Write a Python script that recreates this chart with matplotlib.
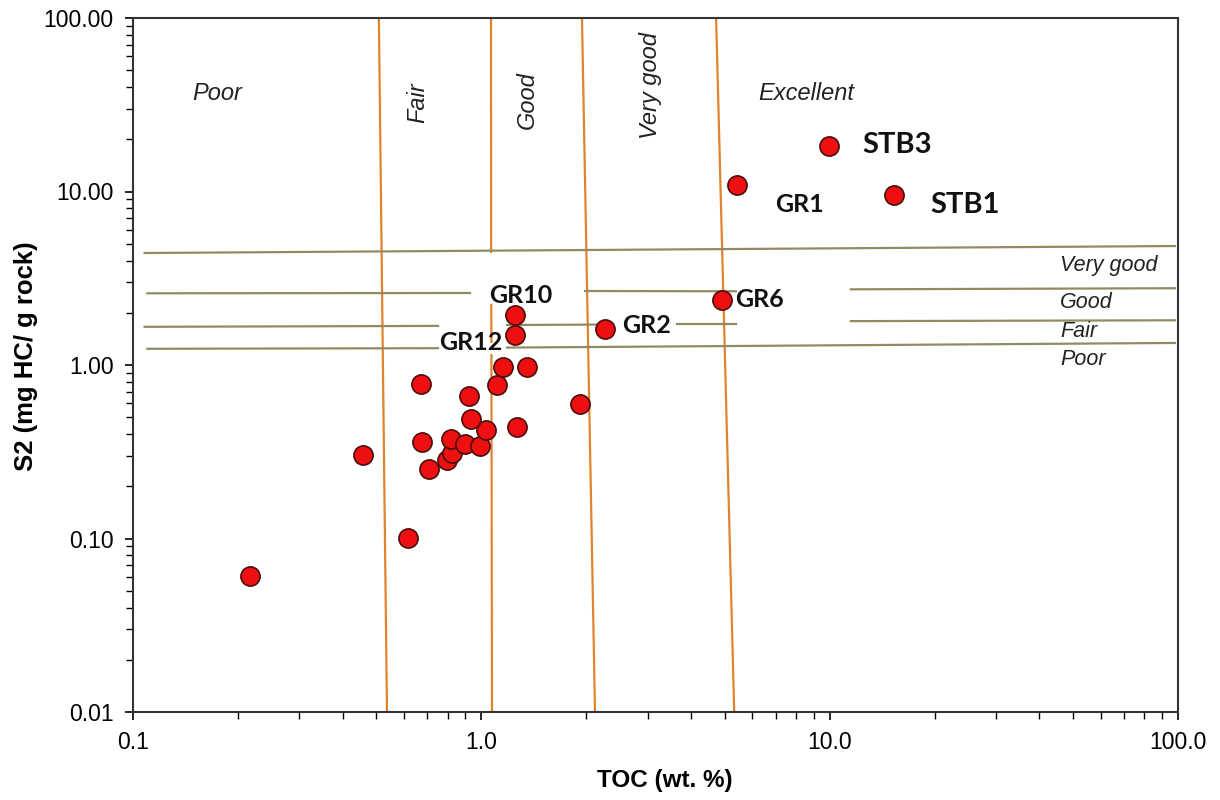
import matplotlib
matplotlib.use('Agg')
from matplotlib import pyplot as plt
from matplotlib.ticker import FixedLocator, LogLocator, FormatStrFormatter, NullFormatter

# samples: TOC (wt.%) vs S2 (mg HC/g rock)
toc = [0.217, 0.457, 0.617, 0.671, 0.676, 0.707, 0.796, 0.824, 0.819, 0.898,
       0.991, 1.031, 0.934, 0.922, 1.11, 1.154, 1.35, 1.265, 1.92,
       1.25, 1.25, 2.27, 4.91, 5.42, 9.96, 15.3]
s2 = [0.061, 0.303, 0.101, 0.778, 0.36, 0.252, 0.283, 0.311, 0.374, 0.351,
      0.341, 0.422, 0.489, 0.663, 0.767, 0.975, 0.975, 0.44, 0.596,
      1.49, 1.94, 1.61, 2.37, 10.9, 18.3, 9.55]

sample_names = ['GR12', 'GR10', 'GR2', 'GR6', 'GR1', 'STB3', 'STB1']
name_x = [0.757, 1.052, 2.54, 5.35, 6.97, 12.4, 19.4]
name_y = [1.34, 2.50, 1.70, 2.37, 8.36, 18.5, 8.36]

# TOC class boundaries (orange, slightly slanted), segments as (x0, y0, x1, y1)
toc_bounds = [
    (0.508, 100, 0.536, 0.01),
    (1.066, 100, 1.067, 4.48),
    (1.068, 2.22, 1.069, 1.36),
    (1.069, 1.14, 1.073, 0.01),
    (1.945, 100, 2.12, 0.01),
    (4.72, 100, 5.32, 0.01),
]

# S2 class boundaries (olive), segments as (x0, y0, x1, y1)
s2_bounds = [
    (0.108, 4.42, 98, 4.85),
    (0.110, 2.59, 0.928, 2.60),
    (1.986, 2.67, 5.38, 2.66),
    (11.5, 2.73, 98, 2.77),
    (0.108, 1.66, 0.751, 1.68),
    (1.186, 1.70, 2.23, 1.71),
    (3.65, 1.72, 5.38, 1.72),
    (11.5, 1.79, 98, 1.81),
    (0.110, 1.24, 0.751, 1.25),
    (1.186, 1.26, 98, 1.34),
]

toc_classes = ['Poor', 'Fair', 'Good', 'Very good', 'Excellent']
toc_class_x = [0.175, 0.658, 1.355, 3.05, 8.56]
toc_class_y = [36.5, 32.4, 33.7, 41, 36.5]
toc_class_rot = [0, 90, 90, 90, 0]

s2_classes = ['Very good', 'Good', 'Fair', 'Poor']
s2_class_y = [3.77, 2.28, 1.55, 1.07]
s2_class_x = 45.9

fig = plt.figure(figsize=(12.2, 8), dpi=100)
ax = fig.add_axes([0.109, 0.11, 0.8566, 0.8675])
ax.set_xscale('log')
ax.set_yscale('log')
ax.set_xlim(0.1, 100)
ax.set_ylim(0.01, 100)

for x0, y0, x1, y1 in toc_bounds:
    ax.plot([x0, x1], [y0, y1], color='#e0832f', lw=1.6, zorder=2)
for x0, y0, x1, y1 in s2_bounds:
    ax.plot([x0, x1], [y0, y1], color='#8f8c62', lw=1.6, zorder=2)

ax.scatter(toc, s2, s=190, c='#ee1010', edgecolors='#4a0a0a', linewidths=1.2, zorder=4)

for name, x, y in zip(sample_names, name_x, name_y):
    fs = 21 if name.startswith('STB') else 18
    ax.text(x, y, name, fontsize=fs, fontweight='bold', family=['Lato', 'DejaVu Sans'],
            ha='left', va='center', color='#111111', zorder=5)

for name, x, y, r in zip(toc_classes, toc_class_x, toc_class_y, toc_class_rot):
    ax.text(x, y, name, fontsize=17, style='italic', family=['Liberation Sans'],
            ha='center', va='center', rotation=r, color='#222222')
for name, y in zip(s2_classes, s2_class_y):
    ax.text(s2_class_x, y, name, fontsize=15.5, style='italic', family=['Liberation Sans'],
            ha='left', va='center', color='#222222')

ax.xaxis.set_major_locator(FixedLocator([0.1, 1, 10, 100]))
ax.yaxis.set_major_locator(FixedLocator([0.01, 0.1, 1, 10, 100]))
ax.xaxis.set_minor_locator(LogLocator(base=10, subs=range(2, 10)))
ax.yaxis.set_minor_locator(LogLocator(base=10, subs=range(2, 10)))
ax.xaxis.set_minor_formatter(NullFormatter())
ax.yaxis.set_minor_formatter(NullFormatter())
ax.xaxis.set_major_formatter(FormatStrFormatter('%.1f'))
ax.yaxis.set_major_formatter(FormatStrFormatter('%.2f'))
ax.tick_params(which='major', direction='out', length=6, width=1.2, labelsize=16.5, pad=8)
ax.tick_params(which='minor', direction='out', length=5, width=1.0)
for lab in ax.get_xticklabels() + ax.get_yticklabels():
    lab.set_family('Liberation Sans')

for sp in ax.spines.values():
    sp.set_linewidth(1.5)
    sp.set_color('#333333')

# axis titles placed by hand so they sit where the reference has them
fig.text(665 / 1220, 1 - 780 / 800, 'TOC (wt. %)', fontsize=17.5, fontweight='bold',
         family='Liberation Sans', ha='center', va='center')
fig.text(26 / 1220, 1 - 356 / 800, 'S2 (mg HC/ g rock)', fontsize=18.5, fontweight='bold',
         family='Liberation Sans', ha='center', va='center', rotation=90)

plt.savefig('out.png', dpi=100)
plt.close()
